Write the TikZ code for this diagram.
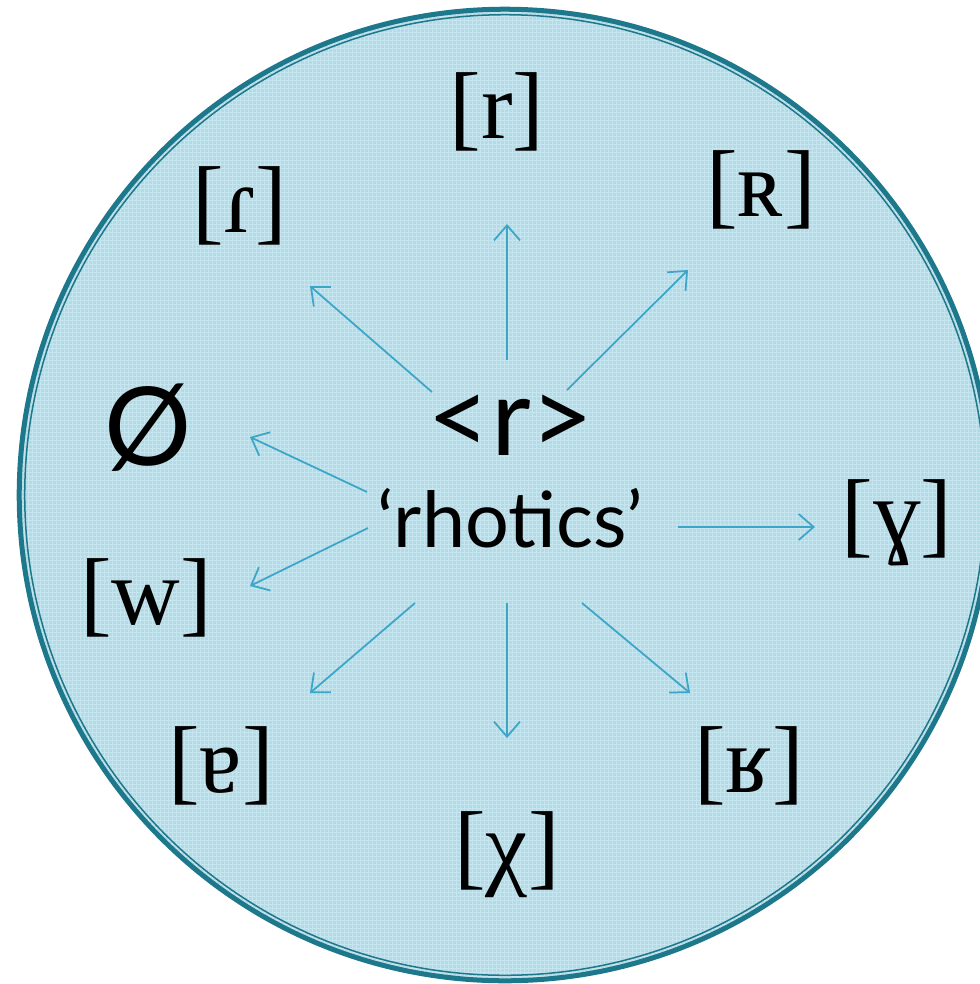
\documentclass[tikz,border=0pt]{standalone}
\usepackage{fontspec}
\setmainfont{Liberation Serif}
\newfontfamily\rhofont{Lato}
\usetikzlibrary{arrows.meta}
\definecolor{ringteal}{RGB}{30,120,140}
\definecolor{discblue}{RGB}{176,219,231}
\definecolor{arrowblue}{RGB}{60,165,200}

\begin{document}
\begin{tikzpicture}[x=0.01cm, y=-0.01cm,
  ipa/.style={font=\fontsize{27}{30}\selectfont, inner sep=0pt},
  spell/.style={font=\rhofont\fontsize{31}{34}\selectfont, inner sep=0pt},
  gloss/.style={font=\rhofont\fontsize{22}{26}\selectfont, inner sep=0pt},
  arr/.style={-{Straight Barb[length=1.5mm, width=2.6mm]}, draw=arrowblue, line width=0.5pt}]
\def\cx{505}
\def\cy{495}

\useasboundingbox (0,0) rectangle (980,984);
\clip (0,0) rectangle (980,984);

% the disc, with its fine grid
\fill[discblue] (\cx,\cy) circle (4.86cm);
\begin{scope}
  \clip (\cx,\cy) circle (4.86cm);
  \draw[white, opacity=0.3, line width=0.25pt, step=0.04cm] (0,0) grid (980,984);
\end{scope}
\draw[ringteal, line width=0.05cm] (\cx,\cy) circle (4.855cm);
\draw[ringteal, line width=0.015cm] (\cx,\cy) circle (4.80cm);

% centre
\node[spell] (spelling) at (511,425) {<r>};
\node[gloss] (rhotics) at (510,518) {‘rhotics’};

% realisations
\node[ipa] (trill) at (497,112) {[r]};
\node[ipa] (tap) at (240,206) {[ɾ]};
\node[ipa] (uvtrill) at (761,190) {[ʀ]};
\node[spell] (zero) at (148,428) {Ø};
\node[ipa] (velfric) at (897,523) {[ɣ]};
\node[ipa] (labvel) at (146,598) {[w]};
\node[ipa] (nearopen) at (221,766) {[ɐ]};
\node[ipa] (uvless) at (507,855) {[χ]};
\node[ipa] (uvfric) at (749,766) {[ʁ]};

\foreach \n/\sx/\sy/\ex/\ey in {1/507/360/507/224, 2/432/392/310/286, 3/567/390/688/270,
    4/367/492/250/437, 5/678/527/815/527, 6/368/528/250/586,
    7/415/603/310/693, 8/507/603/507/738, 9/582/603/690/693}
{
  \coordinate (s\n) at (\sx,\sy);
  \coordinate (e\n) at (\ex,\ey);
  \draw[arr] (s\n) -- (e\n);
}
\end{tikzpicture}
\end{document}
